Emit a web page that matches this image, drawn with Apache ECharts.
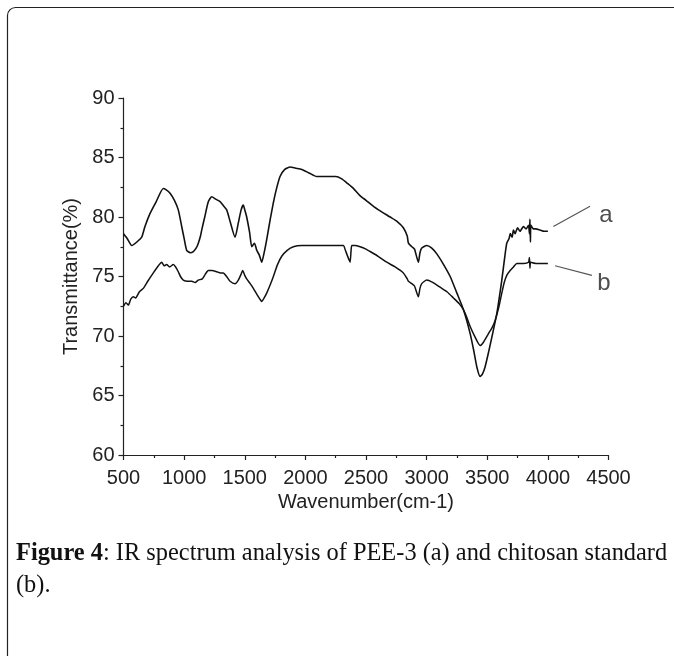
<!DOCTYPE html>
<html>
<head>
<meta charset="utf-8">
<script src="https://cdn.jsdelivr.net/npm/echarts@6/dist/echarts.min.js"></script>
<style>
html,body{margin:0;padding:0;background:#fff;}
#chart{width:674px;height:656px;}
</style>
</head>
<body>
<div id="chart"></div>
<script>
// Curve a: PEE-3
var wavenumberA = [500,530,568,610,650,677,719,770,828,850,884,920,952,980,1000,1021,1050,1076,1100,1117,1135,1145,1170,1200,1228,1260,1296,1320,1351,1380,1420,1447,1470,1488,1500,1516,1540,1558,1580,1599,1620,1640,1660,1681,1710,1736,1760,1791,1830,1874,1920,1970,2030,2094,2176,2250,2300,2350,2396,2450,2500,2561,2620,2699,2760,2808,2840,2850,2878,2900,2932,2945,2960,3001,3040,3084,3140,3194,3250,3304,3359,3390,3414,3441,3460,3482,3510,3538,3579,3620,3640,3661,3680,3690,3705,3716,3730,3750,3770,3798,3820,3840,3848,3852,3856,3860,3880,3900,3936,3970,4000];
var transA =      [78.6,78.2,77.6,77.9,78.3,79.2,80.3,81.3,82.4,82.3,82.0,81.4,80.6,79.2,78.2,77.2,77.0,77.1,77.4,77.8,78.4,78.9,80.0,81.3,81.7,81.5,81.3,81.0,80.6,79.6,78.3,79.5,80.6,81.0,80.6,80.0,78.7,77.5,77.8,77.2,76.8,76.2,77.0,78.1,79.8,81.2,82.3,83.4,84.0,84.2,84.1,84.0,83.7,83.4,83.4,83.4,83.2,82.8,82.4,81.8,81.4,80.9,80.5,80.0,79.6,79.1,78.4,77.8,77.5,77.3,76.2,77.0,77.4,77.6,77.4,76.9,76.0,75.0,73.6,72.2,70.2,68.7,67.4,66.6,66.8,67.4,68.6,69.9,71.9,74.7,76.3,77.8,78.2,78.6,78.3,78.9,78.6,79.1,78.8,79.2,79.0,79.3,78.6,79.8,77.9,79.3,79.0,79.0,78.9,78.8,78.8];
// Curve b: chitosan standard
var wavenumberB = [500,520,540,560,581,600,630,663,700,746,780,815,835,856,880,911,930,952,970,993,1030,1063,1090,1117,1150,1175,1200,1230,1269,1300,1323,1350,1379,1420,1447,1470,1483,1500,1516,1545,1571,1600,1625,1640,1660,1681,1710,1736,1770,1805,1850,1901,1970,2039,2150,2231,2313,2330,2341,2360,2369,2377,2383,2410,2451,2500,2534,2600,2671,2740,2808,2840,2850,2878,2900,2932,2945,2960,3001,3050,3111,3170,3221,3270,3304,3330,3359,3400,3441,3470,3510,3540,3565,3595,3620,3640,3661,3689,3716,3744,3800,3840,3848,3852,3856,3860,3900,3950,4000];
var transB =      [72.5,72.8,72.6,73.1,73.3,73.2,73.7,74.0,74.6,75.3,75.8,76.2,75.9,76.0,75.8,76.0,75.8,75.4,75.0,74.7,74.6,74.6,74.5,74.7,74.8,75.2,75.5,75.5,75.4,75.3,75.3,75.0,74.6,74.4,74.7,75.2,75.5,75.1,74.8,74.4,74.0,73.5,73.1,72.9,73.2,73.6,74.3,75.0,76.0,76.7,77.2,77.5,77.6,77.6,77.6,77.6,77.6,77.2,76.9,76.4,76.2,77.2,77.6,77.6,77.5,77.3,77.1,76.7,76.2,75.8,75.3,74.8,74.6,74.4,74.2,73.3,74.0,74.4,74.7,74.5,74.1,73.7,73.2,72.7,72.2,71.6,70.8,69.9,69.2,69.5,70.2,70.7,71.3,72.4,73.6,74.5,75.1,75.5,75.8,76.1,76.1,76.2,76.6,75.7,76.2,76.2,76.1,76.1,76.1];
// leader lines and labels
var labelNames = ['a', 'b'];
var leaderA = [[4045, 79.2], [4348, 80.9]];
var leaderB = [[4059, 75.9], [4363, 75.1]];
var labelPos = [[4478, 80.1], [4462, 74.4]];
var xTicks = {min: 500, max: 4500, step: 500};
var yTicks = {min: 60, max: 90, step: 5};

function zip(xs, ys) { return xs.map(function (x, i) { return [x, ys[i]]; }); }

var chart = echarts.init(document.getElementById('chart'), null, {renderer: 'canvas'});
var axisFont = {fontFamily: 'Liberation Sans, Arial, sans-serif', fontSize: 20, color: '#222'};
chart.setOption({
  animation: false,
  backgroundColor: '#fff',
  grid: {left: 123.5, right: 65.5, top: 98, bottom: 201, containLabel: false},
  xAxis: {
    type: 'value', min: xTicks.min, max: xTicks.max, interval: xTicks.step,
    name: 'Wavenumber(cm-1)', nameLocation: 'middle', nameGap: 36,
    nameTextStyle: axisFont,
    axisLine: {show: true, onZero: false, lineStyle: {color: '#222', width: 1.2}},
    axisTick: {show: true, length: 5, lineStyle: {color: '#222', width: 1.2}},
    minorTick: {show: true, splitNumber: 2, length: 3, lineStyle: {color: '#222', width: 1.2}},
    axisLabel: Object.assign({margin: 13, formatter: function (v) { return String(v); }}, axisFont),
    splitLine: {show: false}
  },
  yAxis: {
    type: 'value', min: yTicks.min, max: yTicks.max, interval: yTicks.step,
    name: 'Transmittance(%)', nameLocation: 'middle', nameGap: 31,
    nameTextStyle: axisFont,
    axisLine: {show: true, onZero: false, lineStyle: {color: '#222', width: 1.2}},
    axisTick: {show: true, length: 5, lineStyle: {color: '#222', width: 1.2}},
    minorTick: {show: true, splitNumber: 2, length: 3, lineStyle: {color: '#222', width: 1.2}},
    axisLabel: Object.assign({margin: 9, formatter: function (v) { return String(v); }}, axisFont),
    splitLine: {show: false}
  },
  series: [
    {type: 'line', name: 'a', data: zip(wavenumberA, transA), showSymbol: false, symbol: 'none', smooth: 0.2,
     lineStyle: {color: '#111', width: 1.6}, silent: true},
    {type: 'line', name: 'b', data: zip(wavenumberB, transB), showSymbol: false, symbol: 'none', smooth: 0.2,
     lineStyle: {color: '#111', width: 1.5}, silent: true},
    {type: 'line', data: leaderA, symbol: 'none', lineStyle: {color: '#555', width: 1.2}, silent: true},
    {type: 'line', data: leaderB, symbol: 'none', lineStyle: {color: '#555', width: 1.2}, silent: true},
    {type: 'scatter', symbolSize: 0, silent: true,
     data: labelPos.map(function (p, i) { return {value: p, name: labelNames[i]}; }),
     label: {show: true, position: 'inside', formatter: '{b}', fontFamily: 'Liberation Sans, Arial, sans-serif', fontSize: 24, color: '#222'}}
  ],
  graphic: [
    {type: 'rect', shape: {x: 7.5, y: 7.5, width: 720, height: 720, r: 8}, style: {fill: 'none', stroke: '#222', lineWidth: 1.2}, silent: true},
    {type: 'text', left: 16, top: 538, silent: true,
     style: {text: '{b|Figure 4}: IR spectrum analysis of PEE-3 (a) and chitosan standard\n(b).',
       fontFamily: 'Liberation Serif, DejaVu Serif, serif', fontSize: 24.4, lineHeight: 32, fill: '#111',
       rich: {b: {fontFamily: 'Liberation Serif, DejaVu Serif, serif', fontSize: 24.4, fontWeight: 'bold', fill: '#111', lineHeight: 32}}}}
  ]
});
</script>
</body>
</html>
